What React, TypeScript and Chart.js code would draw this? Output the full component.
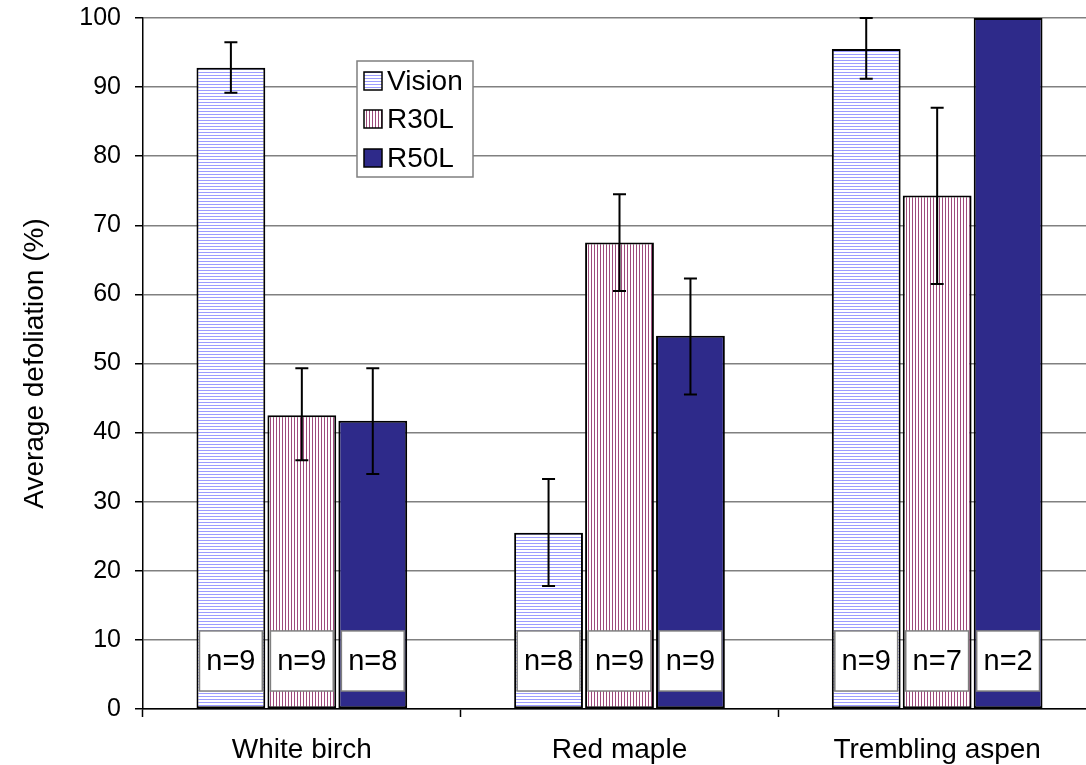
import React, { useEffect, useRef } from "react";
import { Chart, registerables } from "chart.js";

Chart.register(...registerables);

const categories = ["White birch", "Red maple", "Trembling aspen"];
const seriesNames = ["Vision", "R30L", "R50L"];

const visionValues = [92.8, 25.5, 95.5];
const r30lValues = [42.5, 67.5, 74.3];
const r50lValues = [41.7, 54.0, 100];

const visionLow = [89.2, 17.8, 91.2];
const visionHigh = [96.5, 33.3, 100];
const r30lLow = [36.0, 60.5, 61.5];
const r30lHigh = [49.3, 74.5, 87.0];
const r50lLow = [34.0, 45.5, 100];
const r50lHigh = [49.3, 62.3, 100];

const visionN = ["n=9", "n=8", "n=9"];
const r30lN = ["n=9", "n=9", "n=7"];
const r50lN = ["n=8", "n=9", "n=2"];

const yMin = 0;
const yMax = 100;
const yStep = 10;

const nBoxTop = 11.3;
const nBoxBottom = 2.6;

const FONT = "'Liberation Sans', Arial, sans-serif";

function makeHPattern(color: string) {
  const c = document.createElement("canvas");
  c.width = 3;
  c.height = 3;
  const x = c.getContext("2d")!;
  x.fillStyle = "#ffffff";
  x.fillRect(0, 0, 3, 3);
  x.fillStyle = color;
  x.fillRect(0, 0, 3, 1);
  return x.createPattern(c, "repeat")!;
}
function makeVPattern(color: string) {
  const c = document.createElement("canvas");
  c.width = 3;
  c.height = 3;
  const x = c.getContext("2d")!;
  x.fillStyle = "#ffffff";
  x.fillRect(0, 0, 3, 3);
  x.fillStyle = color;
  x.fillRect(0, 0, 1, 3);
  return x.createPattern(c, "repeat")!;
}

export default function App() {
  const ref = useRef<HTMLCanvasElement | null>(null);

  useEffect(() => {
    if (!ref.current) return;
    const visionFill = makeHPattern("#9c9cff");
    const r30lFill = makeVPattern("#9e4a7c");
    const r50lFill = "#2e2a8a";
    const fills = [visionFill, r30lFill, r50lFill];
    const lows = [visionLow, r30lLow, r50lLow];
    const highs = [visionHigh, r30lHigh, r50lHigh];
    const ns = [visionN, r30lN, r50lN];

    const errorPlugin = {
      id: "errorBars",
      afterDatasetsDraw(chart: any) {
        const ctx = chart.ctx;
        const ys = chart.scales.y;
        chart.data.datasets.forEach((ds: any, di: number) => {
          const meta = chart.getDatasetMeta(di);
          meta.data.forEach((el: any, i: number) => {
            const half = el.width / 2;
            const left = el.x - half + 3;
            const right = el.x + half - 3;
            const top = ys.getPixelForValue(nBoxTop);
            const bottom = ys.getPixelForValue(nBoxBottom);
            ctx.save();
            ctx.fillStyle = "#ffffff";
            ctx.fillRect(left, top, right - left, bottom - top);
            ctx.strokeStyle = "#7f7f7f";
            ctx.lineWidth = 1.5;
            ctx.strokeRect(left, top, right - left, bottom - top);
            ctx.fillStyle = "#000000";
            ctx.font = `29px ${FONT}`;
            ctx.textAlign = "center";
            ctx.textBaseline = "middle";
            ctx.fillText(ns[di][i], el.x, (top + bottom) / 2 + 1);
            ctx.restore();

            const lo = lows[di][i];
            const hi = highs[di][i];
            if (hi === lo) return;
            const yLo = ys.getPixelForValue(lo);
            const yHi = ys.getPixelForValue(hi);
            ctx.save();
            ctx.strokeStyle = "#000000";
            ctx.lineWidth = 2;
            ctx.beginPath();
            ctx.moveTo(el.x, yLo);
            ctx.lineTo(el.x, yHi);
            ctx.moveTo(el.x - 6.5, yLo);
            ctx.lineTo(el.x + 6.5, yLo);
            ctx.moveTo(el.x - 6.5, yHi);
            ctx.lineTo(el.x + 6.5, yHi);
            ctx.stroke();
            ctx.restore();
          });
        });
      },
    };

    const legendPlugin = {
      id: "boxLegend",
      afterDraw(chart: any) {
        const ctx = chart.ctx;
        const bx = 357;
        const by = 61;
        const bw = 116;
        const bh = 116;
        ctx.save();
        ctx.fillStyle = "#ffffff";
        ctx.fillRect(bx, by, bw, bh);
        ctx.strokeStyle = "#7f7f7f";
        ctx.lineWidth = 1.5;
        ctx.strokeRect(bx, by, bw, bh);
        const rows = [81, 119, 158];
        seriesNames.forEach((name, i) => {
          const cy = rows[i];
          ctx.fillStyle = fills[i] as any;
          ctx.fillRect(364, cy - 9, 18, 18);
          ctx.strokeStyle = "#000000";
          ctx.lineWidth = 1.5;
          ctx.strokeRect(364, cy - 9, 18, 18);
          ctx.fillStyle = "#000000";
          ctx.font = `28px ${FONT}`;
          ctx.textAlign = "left";
          ctx.textBaseline = "middle";
          ctx.fillText(name, 387, cy + 1);
        });
        ctx.restore();
      },
    };

    const chart = new Chart(ref.current, {
      type: "bar",
      data: {
        labels: categories,
        datasets: [
          { label: seriesNames[0], data: visionValues, backgroundColor: visionFill as any },
          { label: seriesNames[1], data: r30lValues, backgroundColor: r30lFill as any },
          { label: seriesNames[2], data: r50lValues, backgroundColor: r50lFill },
        ].map((d) => ({
          ...d,
          borderColor: "#000000",
          borderWidth: 2,
          borderSkipped: false,
          categoryPercentage: 0.67,
          barPercentage: 0.97,
        })),
      },
      options: {
        animation: false,
        responsive: true,
        maintainAspectRatio: false,
        layout: { padding: { top: 18, right: 0, left: 0, bottom: 0 } },
        plugins: {
          legend: { display: false },
          tooltip: { enabled: false },
        },
        scales: {
          x: {
            grid: {
              display: true,
              drawOnChartArea: false,
              drawTicks: true,
              tickLength: 8,
              tickColor: "#000000",
              tickWidth: 1.5,
              offset: true,
            },
            border: { display: true, color: "#000000", width: 1.5 },
            ticks: {
              color: "#000000",
              font: { family: FONT, size: 28 },
              padding: 16,
            },
            afterFit(scale: any) {
              scale.height = 56;
              scale.paddingLeft = 0;
              scale.paddingRight = 0;
            },
          },
          y: {
            min: yMin,
            max: yMax,
            ticks: {
              stepSize: yStep,
              color: "#000000",
              font: { family: FONT, size: 25 },
              padding: 14,
            },
            grid: {
              color: "#808080",
              lineWidth: 1.5,
              tickColor: "#000000",
              tickLength: 8,
              tickWidth: 1.5,
            },
            border: { display: true, color: "#000000", width: 1.5 },
            title: {
              display: true,
              text: "Average defoliation (%)",
              color: "#000000",
              font: { family: FONT, size: 28 },
              padding: { top: 18, bottom: 0 },
            },
            afterFit(scale: any) {
              scale.width = 143;
              scale.paddingTop = 0;
              scale.paddingBottom = 0;
            },
          },
        },
      },
      plugins: [errorPlugin, legendPlugin],
    });
    return () => chart.destroy();
  }, []);

  return (
    <div
      style={{
        position: "fixed",
        left: 0,
        top: 0,
        width: 1086,
        height: 765,
        overflow: "hidden",
        background: "#ffffff",
      }}
    >
      <div style={{ position: "absolute", left: 0, top: 0, width: 1096, height: 765 }}>
        <canvas ref={ref} />
      </div>
    </div>
  );
}
